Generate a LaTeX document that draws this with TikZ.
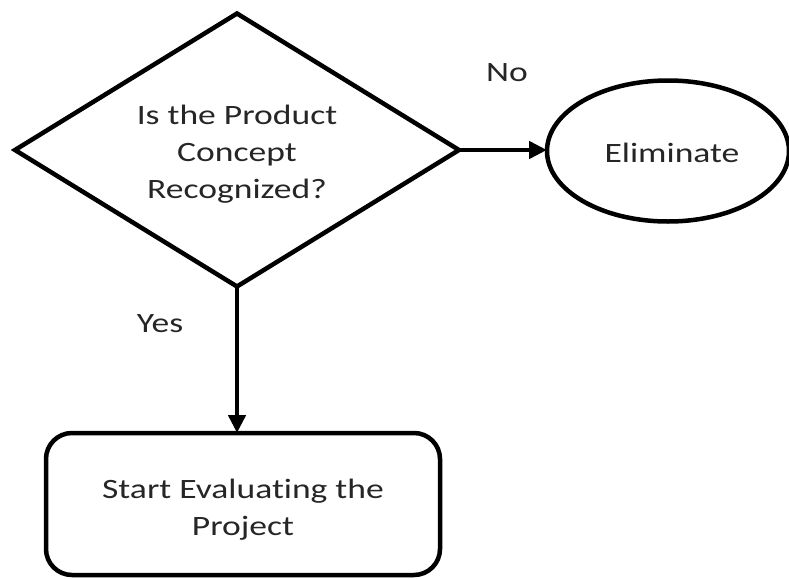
\documentclass[tikz,border=0pt]{standalone}
\usepackage{fontspec}
\setmainfont[FakeStretch=1.27,Ligatures=NoCommon]{Carlito}
\usetikzlibrary{shapes.geometric,arrows.meta}
\begin{document}
\begin{tikzpicture}[x=1pt,y=-1pt,
  shp/.style={draw=black,line width=4.5pt,fill=white,inner sep=0pt,outer sep=0pt},
  txt/.style={align=center,font=\fontsize{28}{37}\selectfont,inner sep=0pt,text=black!85},
  conn/.style={draw=black,line width=4.5pt,-{Triangle[length=18pt,width=17pt]}}]
\useasboundingbox (0,0) rectangle (789,578);
\node[shp,diamond,minimum width=444pt,minimum height=273pt] (dec) at (237,150) {};
\node[txt] (dect) at (237,154) {Is the Product\\Concept\\Recognized?};
\node[shp,ellipse,minimum width=242pt,minimum height=141pt] (elim) at (668,151) {};
\node[txt] (elimt) at (672,153) {Eliminate};
\node[shp,rectangle,rounded corners=26pt,minimum width=394pt,minimum height=142pt] (start) at (243,504) {};
\node[txt] (startt) at (243,510) {Start Evaluating the\\Project};
\draw[conn] (dec.east) -- (dec.east -| elim.west);
\draw[conn] (dec.south) -- (dec.south |- start.north);
\node[txt] (no) at (507,73) {No};
\node[txt] (yes) at (160,324) {Yes};
\end{tikzpicture}
\end{document}
